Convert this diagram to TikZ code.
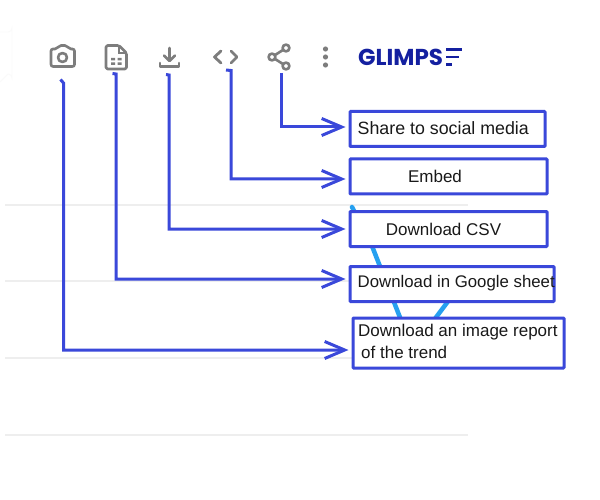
\documentclass[tikz,border=0pt]{standalone}
\usepackage{fontspec}
\setmainfont{Liberation Sans}
\newfontfamily\logofont{Poppins}
\usetikzlibrary{arrows.meta}
\definecolor{ann}{RGB}{58,72,218}
\definecolor{icon}{RGB}{125,125,125}
\definecolor{glim}{RGB}{20,32,160}
\definecolor{sky}{RGB}{38,160,240}
\definecolor{rule}{RGB}{238,238,238}
\tikzset{
  x=1pt,y=-1pt,
  lab/.style={draw=ann,line width=3pt,fill=white,rounded corners=0.8pt,inner sep=0pt,anchor=north west},
  labtext/.style={inner sep=0pt,text=black!90,font=\fontsize{17}{20}\selectfont},
  conn/.style={draw=ann,line width=3pt,shorten >=3pt,-{Straight Barb[length=20pt,width=17pt,line width=3pt]}},
  iconline/.style={draw=icon,line width=2.6pt,line cap=round,line join=round},
  gridline/.style={draw=rule,line width=1.2pt}
}
\begin{document}
\begin{tikzpicture}
\useasboundingbox (0,0) rectangle (600,500);
\fill[white] (0,0) rectangle (600,500);
% faint background
\draw[draw=black!2,line width=0.8pt] (0,32) -- (8,32) arc[start angle=90,end angle=0,radius=4] -- (12,78) arc[start angle=0,end angle=-90,radius=4] -- (0,82);
\foreach \yy in {205,281,358,435} \draw[gridline] (5,\yy) -- (468,\yy);
\draw[sky,line width=4.5pt,line cap=round] (352,207) -- (372,246) -- (401,320);
\draw[sky,line width=4.5pt] (449,300) -- (434,320);
% icons
\draw[iconline,rounded corners=2pt] (51,49) -- (57,49) -- (59,45.500) -- (67,45.500) -- (69,49) -- (74.500,49) -- (74.500,66.500) -- (51,66.500) -- cycle;
\draw[iconline] (62.500,57.500) circle (4.5);
\draw[iconline,rounded corners=1.5pt] (106,45.500) -- (119,45.500) -- (126.500,53) -- (126.500,69) -- (106,69) -- cycle;
\draw[icon,line width=2pt] (119,46) -- (119,53) -- (126,53);
\fill[icon] (111,58) rectangle +(4,2.500) (117.500,58) rectangle +(4,2.500) (111,62.500) rectangle +(4,2.500) (117.500,62.500) rectangle +(4,2.500);
\draw[iconline] (169.500,48) -- (169.500,60);
\draw[iconline] (164,55.500) -- (169.500,61) -- (175,55.500);
\draw[iconline] (160,63) -- (160,66.500) -- (179,66.500) -- (179,63);
\draw[iconline,line width=2.8pt] (221,51) -- (214.500,57) -- (221,63);
\draw[iconline,line width=2.8pt] (231,51) -- (237,57) -- (231,63);
\draw[iconline] (286,48) -- (272,57) -- (286,66);
\foreach \px/\py in {286/48,272/57,286/66} \draw[iconline,fill=white] (\px,\py) circle (3.4);
\foreach \py in {49,57,65} \fill[icon] (325.500,\py) circle (2.6);
% logo
\node[anchor=west,inner sep=0pt,text=glim,font=\logofont\bfseries\fontsize{23}{25}\selectfont] (logo) at (358,57.500) {GLIMPS};
\draw[glim,line width=2.8pt] (446,49.500) -- (462,49.500);
\draw[glim,line width=2.8pt] (446,57) -- (459,57);
\draw[glim,line width=2.8pt] (446,64.500) -- (452,64.500);
% boxes
\node[lab,minimum width=195pt,minimum height=35pt] (share) at (348.500,110) {};
\node[labtext,anchor=west,font=\fontsize{17.800}{20}\selectfont] (sharet) at (357.500,128.500) {Share to social media};
\node[lab,minimum width=197pt,minimum height=35pt] (embed) at (348.500,157.500) {};
\node[labtext] (embedt) at (435,176.500) {Embed};
\node[lab,minimum width=197pt,minimum height=35pt] (csv) at (348.500,210) {};
\node[labtext] (csvt) at (443.500,229.500) {Download CSV};
\node[lab,minimum width=204pt,minimum height=35pt] (sheet) at (348.500,265) {};
\node[labtext,anchor=west,font=\fontsize{16.800}{20}\selectfont] (sheett) at (357.500,283.500) {Download in Google sheet};
\node[lab,minimum width=211pt,minimum height=50pt] (img) at (351.500,316.500) {};
\node[labtext,anchor=west] (imgt) at (358,332.500) {Download an image report};
\node[labtext,anchor=west] (imgu) at (361,352.500) {of the trend};
% connector start points
\coordinate (c1) at (281.500,73);
\coordinate (c2) at (226,70);
\coordinate (c3) at (166,74.500);
\coordinate (c4) at (112.500,73.500);
\coordinate (c5) at (60.500,79.500);
\draw[conn] (c1) -- (281.500,127) -- (share.west |- 0,127);
\draw[conn] (c2) -- (231,70.500) -- (231,179) -- (embed.west |- 0,179);
\draw[conn] (c3) -- (169,75) -- (169,229) -- (csv.west |- 0,229);
\draw[conn] (c4) -- (116,74) -- (116,279) -- (sheet.west |- 0,279);
\draw[conn] (c5) -- (63.500,83) -- (63.500,350) -- (img.west |- 0,350);
\end{tikzpicture}
\end{document}
